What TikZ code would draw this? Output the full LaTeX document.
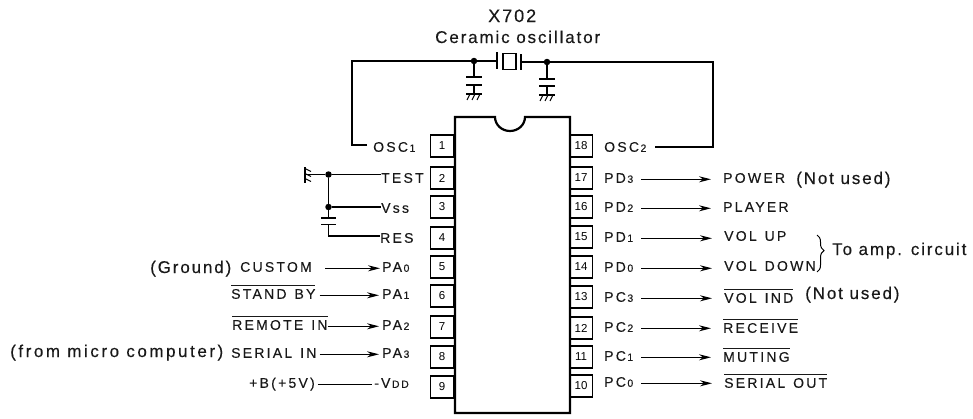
\documentclass[tikz,border=0pt]{standalone}
\usepackage{fontspec}
\setmainfont{Liberation Sans}
\newfontfamily\capsfnt[LetterSpace=16,WordSpace=1.3,FakeBold=0.25]{Liberation Sans}
\newfontfamily\bigfnt[LetterSpace=11,FakeBold=0.3]{Liberation Sans}
\newfontfamily\widefnt[LetterSpace=15,FakeBold=0.3]{Liberation Sans}
\usetikzlibrary{arrows.meta,decorations.pathreplacing}
\newcommand{\ovl}[1]{\leavevmode\vbox{\hrule height 0.9pt\kern 3pt\hbox{#1}}}
\newcommand{\dg}[1]{{\kern 1.5pt\fontsize{10.5}{11}\selectfont #1}}
\tikzset{
  x=1pt,y=-1pt,
  lab/.style={anchor=south west,inner sep=0pt,text height=7pt,text depth=0pt,font=\capsfnt\fontsize{14}{16}\selectfont,text=black!90},
  big/.style={anchor=base west,inner sep=0pt,font=\bigfnt\fontsize{17}{19}\selectfont,text=black!90},
  pinbox/.style={draw,line width=1.1pt,minimum width=23pt,minimum height=22pt,inner sep=0pt,anchor=center,font=\fontsize{11.5}{12}\selectfont},
  wire/.style={line width=1.2pt},
  arr/.style={line width=1.2pt,-{Stealth[length=12pt,width=6pt]}},
  dot/.style={circle,fill=black,inner sep=0pt,minimum size=6.5pt},
  plate/.style={line width=1.8pt},
  gnd/.pic={
    \draw[line width=1.6pt] (-8,0) -- (8,0);
    \draw[line width=1pt] (-4,0) -- (-7,6) (1,0) -- (-2,6) (6,0) -- (3,6);
  }
}
\begin{document}
\begin{tikzpicture}
\useasboundingbox (0,0) rectangle (973,418);
% IC body
\draw[line width=2.2pt,line join=miter] (455,117) -- (495,117) arc[start angle=180,end angle=360,x radius=15,y radius=-14] -- (570,117) -- (570,413) -- (455,413) -- cycle;
% pin boxes
\node[pinbox] (n1) at (442,146) {1};
\node[pinbox] (n2) at (442,178) {2};
\node[pinbox] (n3) at (442,207) {3};
\node[pinbox] (n4) at (442,238) {4};
\node[pinbox] (n5) at (442,267) {5};
\node[pinbox] (n6) at (442,296) {6};
\node[pinbox] (n7) at (442,327) {7};
\node[pinbox] (n8) at (442,357) {8};
\node[pinbox] (n9) at (442,387) {9};
\node[pinbox] (n18) at (581,146) {18};
\node[pinbox] (n17) at (581,178) {17};
\node[pinbox] (n16) at (581,207) {16};
\node[pinbox] (n15) at (581,237) {15};
\node[pinbox] (n14) at (581,267) {14};
\node[pinbox] (n13) at (581,297) {13};
\node[pinbox] (n12) at (581,328) {12};
\node[pinbox] (n11) at (581,357) {11};
\node[pinbox] (n10) at (581,386) {10};
% left pin names
\node[lab] (osc1) at (373,152) {OSC\dg{1}};
\node[lab] (test) at (381,183) {TEST};
\node[lab] (vss) at (381,213) {Vss};
\node[lab] (res) at (380,243) {RES};
\node[lab] (pa0) at (382,272) {PA\dg{0}};
\node[lab] (pa1) at (382,299) {PA\dg{1}};
\node[lab] (pa2) at (382,330) {PA\dg{2}};
\node[lab] (pa3) at (382,358) {PA\dg{3}};
\node[lab] (vdd) at (374,388) {-V\dg{DD}};
% right pin names
\node[lab] (osc2) at (604,152) {OSC\dg{2}};
\node[lab] (pd3) at (604,183) {PD\dg{3}};
\node[lab] (pd2) at (604,212) {PD\dg{2}};
\node[lab] (pd1) at (604,242) {PD\dg{1}};
\node[lab] (pd0) at (604,272) {PD\dg{0}};
\node[lab] (pc3) at (604,302) {PC\dg{3}};
\node[lab] (pc2) at (604,332) {PC\dg{2}};
\node[lab] (pc1) at (604,361) {PC\dg{1}};
\node[lab] (pc0) at (604,387) {PC\dg{0}};
% left signals
\node[lab] (custom) at (240,272) {CUSTOM};
\node[lab] (standby) at (231,299) {\ovl{STAND BY}};
\node[lab] (remote) at (232,330) {\ovl{REMOTE IN}};
\node[lab] (serialin) at (231,358) {SERIAL IN};
\node[lab] (plusb) at (249,388) {+B(+5V)};
\node[big] (ground) at (150,273) {(Ground)};
\node[big,font=\widefnt\fontsize{17}{19}\selectfont] (micro) at (10,357) {(from micro computer)};
% right signals
\node[lab] (power) at (723,183) {POWER};
\node[lab] (player) at (723,212) {PLAYER};
\node[lab] (volup) at (724,241) {VOL UP};
\node[lab] (voldown) at (724,271) {VOL DOWN};
\node[lab] (volind) at (724,303) {\ovl{VOL IND}};
\node[lab] (receive) at (723,333) {\ovl{RECEIVE}};
\node[lab] (muting) at (723,362) {\ovl{MUTING}};
\node[lab] (serialout) at (724,388) {\ovl{SERIAL OUT}};
\node[big] (nu1) at (796,184) {(Not used)};
\node[big] (nu2) at (805,299) {(Not used)};
\node[big] (amp) at (832,255) {To amp. circuit};
\node[big,font=\bigfnt\fontsize{18}{20}\selectfont] (x702) at (488,22) {X702};
\node[big] (ceramic) at (435,43) {Ceramic oscillator};
% arrows left
\draw[arr,shorten <=13pt,shorten >=2pt] (custom.east) -- (custom.east -| pa0.west);
\draw[arr,shorten <=4pt,shorten >=3pt] (standby.east) -- (standby.east -| pa1.west);
\draw[arr,shorten >=3pt] (remote.east) -- (remote.east -| pa2.west);
\draw[arr,shorten <=3pt,shorten >=3pt] (serialin.east) -- (serialin.east -| pa3.west);
\draw[wire,shorten <=3pt,shorten >=2pt] (plusb.east) -- (plusb.east -| vdd.west);
% arrows right
\draw[arr,shorten <=8pt,shorten >=12pt] (pd3.east) -- (pd3.east -| power.west);
\draw[arr,shorten <=8pt,shorten >=12pt] (pd2.east) -- (pd2.east -| player.west);
\draw[arr,shorten <=8pt,shorten >=12pt] (pd1.east) -- (pd1.east -| volup.west);
\draw[arr,shorten <=8pt,shorten >=12pt] (pd0.east) -- (pd0.east -| voldown.west);
\draw[arr,shorten <=8pt,shorten >=12pt] (pc3.east) -- (pc3.east -| volind.west);
\draw[arr,shorten <=8pt,shorten >=12pt] (pc2.east) -- (pc2.east -| receive.west);
\draw[arr,shorten <=8pt,shorten >=12pt] (pc1.east) -- (pc1.east -| muting.west);
\draw[arr,shorten <=8pt,shorten >=12pt] (pc0.east) -- (pc0.east -| serialout.west);
% brace
\coordinate (bt) at (817,235);
\coordinate (bb) at (817,272);
\draw[line width=1pt,decorate,decoration={brace,amplitude=7pt,aspect=0.42}] (bt) -- (bb);
% oscillator
\node[draw,line width=1.2pt,minimum width=13pt,minimum height=16pt,inner sep=0pt] (xtal) at (509.5,61.5) {};
\coordinate (pl) at (497,61);
\coordinate (pr) at (521,62);
\draw[plate] (497,52) -- (497,69);
\draw[plate] (521,54) -- (521,70);
\node[dot] (dl) at (474,61) {};
\node[dot] (dr) at (547,62) {};
\coordinate (cl) at (352,61);
\coordinate (cr) at (713,62);
\coordinate (o1) at (367,145);
\coordinate (o2) at (655,147);
\draw[wire] (o1) -| (cl) -- (dl) -- (pl);
\draw[wire] (o2) -| (cr) -- (dr) -- (pr);
% caps
\draw[wire] (dl) -- (474,77);
\draw[plate] (466,77) -- (482,77);
\draw[plate] (466,85) -- (482,85);
\draw[wire] (474,85) -- (474,94);
\pic at (474,94) {gnd};
\draw[wire] (dr) -- (547,79);
\draw[plate] (539,79) -- (555,79);
\draw[plate] (539,86) -- (555,86);
\draw[wire] (547,86) -- (547,95);
\pic at (547,95) {gnd};
% test/vss/res
\node[dot] (dt) at (328.5,174.5) {};
\node[dot] (dv) at (328.5,207) {};
\coordinate (g1) at (305,174.5);
\coordinate (cres) at (328.5,236);
\draw[wire] (g1) -- (dt) -- (dt -| test.west);
\draw[wire] (dv) -- (dv -| vss.west);
\draw[wire] (dt) -- (dv) -- (328.5,218);
\draw[plate] (321,218) -- (336,218);
\draw[plate] (321,224.5) -- (336,224.5);
\draw[wire] (328.5,224.5) -- (cres) -- (cres -| res.west);
\pic[rotate=90] at (305,174.5) {gnd};
\end{tikzpicture}
\end{document}
